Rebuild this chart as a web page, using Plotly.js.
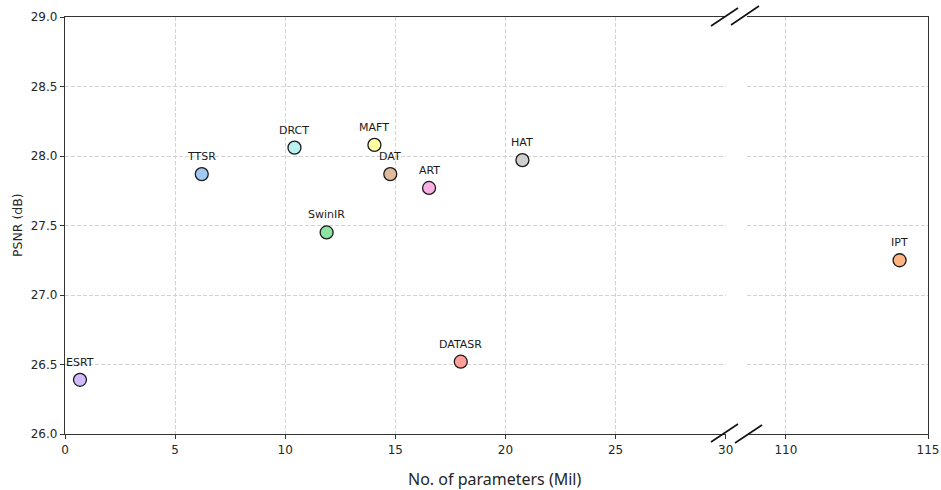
<!DOCTYPE html>
<html>
<head>
<meta charset="utf-8">
<script src="https://cdn.plot.ly/plotly-3.0.1.min.js"></script>
<style>html,body{margin:0;padding:0;background:#fff;}#chart{width:941px;height:490px;}</style>
</head>
<body>
<div id="chart"></div>
<script>
// Data
const models = ["ESRT","TTSR","DRCT","SwinIR","MAFT","DAT","ART","DATASR","HAT","IPT"];
const params = [0.68, 6.21, 10.42, 11.88, 14.05, 14.77, 16.53, 17.97, 20.77, 114.0];
const psnr   = [26.39, 27.87, 28.06, 27.45, 28.08, 27.87, 27.77, 26.52, 27.97, 27.25];
const colors = ["#d0bbff","#a1c9f4","#b9f2f0","#8de5a1","#fffea3","#debb9b","#fab0e4","#ff9f9b","#cfcfcf","#ffb482"];
const leftTicks = [0,5,10,15,20,25,30];
const rightTicks = [110,115];
const yTicks = [26.0,26.5,27.0,27.5,28.0,28.5,29.0];
const yTickText = ["26.0","26.5","27.0","27.5","28.0","28.5","29.0"];

const W = 941, H = 490;
const m = {l:65, r:13, t:17, b:56};
const pw = W - m.l - m.r, ph = H - m.t - m.b;
const px = v => (v - m.l) / pw;
const py = v => (H - m.b - v) / ph;

const leftIdx = [], rightIdx = [];
params.forEach((p,i)=> (p < 50 ? leftIdx : rightIdx).push(i));

function mk(idx, xa, ya){
  return {
    type:'scatter', mode:'markers',
    x: idx.map(i=>params[i]), y: idx.map(i=>psnr[i]),
    xaxis:xa, yaxis:ya,
    marker:{size:13, color: idx.map(i=>colors[i]), line:{color:'#1a1a1a', width:1.3}},
    hoverinfo:'skip', showlegend:false, cliponaxis:false
  };
}
const traces = [mk(leftIdx,'x','y'), mk(rightIdx,'x2','y2')];

const font = {family:'DejaVu Sans, sans-serif', color:'#262626'};
const annotations = [];
models.forEach((name,i)=>{
  const right = params[i] >= 50;
  annotations.push({
    x: params[i], y: psnr[i], xref: right?'x2':'x', yref: right?'y2':'y',
    text: name, showarrow:false, yshift:17.5, xanchor:'center', yanchor:'middle',
    font:{family:font.family, size:11, color:'#1a1a1a'}
  });
});
annotations.push({xref:'paper', yref:'paper', x:px(494), y:py(479), text:'No. of parameters (Mil)', showarrow:false, xanchor:'center', yanchor:'middle', font:{family:'Noto Sans, sans-serif', size:16, color:'#262626'}});
annotations.push({xref:'paper', yref:'paper', x:px(17.5), y:0.5, text:'PSNR (dB)', textangle:-90, showarrow:false, xanchor:'center', yanchor:'middle', font:{family:font.family, size:12.5, color:'#262626'}});

const lineSeg = (x0,y0,x1,y1)=>({type:'line', xref:'paper', yref:'paper', x0:px(x0), y0:py(y0), x1:px(x1), y1:py(y1), line:{color:'#111', width:1.6}});
const shapes = [
  lineSeg(711,26,738,8), lineSeg(731,25,759,6),
  lineSeg(711,442,738,424), lineSeg(735,443,762,425)
];

const grid = {showgrid:true, gridcolor:'#d3d3d3', griddash:'4px,2px', gridwidth:1};
const axLine = {showline:true, linecolor:'#333', linewidth:1.2, zeroline:false};
const tickf = {family:font.family, size:12, color:'#262626'};

const layout = {
  width:W, height:H, margin:m, paper_bgcolor:'#fff', plot_bgcolor:'#fff',
  font: font, showlegend:false,
  xaxis: Object.assign({domain:[0, px(725.7)], range:[0,30], tickvals:leftTicks, ticktext:leftTicks.map(String),
    ticks:'outside', ticklen:4, tickcolor:'#333', mirror:true, tickfont:tickf, anchor:'y'}, grid, axLine),
  xaxis2: Object.assign({domain:[px(747), 1], range:[108.63,115], tickvals:rightTicks, ticktext:rightTicks.map(String),
    ticks:'outside', ticklen:4, tickcolor:'#333', mirror:true, tickfont:tickf, anchor:'y2'}, grid, axLine),
  yaxis: Object.assign({domain:[0,1], range:[26,29], tickvals:yTicks, ticktext:yTickText,
    ticks:'outside', ticklen:4, tickcolor:'#333', tickfont:tickf, anchor:'x'}, grid, axLine),
  yaxis2: Object.assign({domain:[0,1], range:[26,29], tickvals:yTicks, showticklabels:false, ticks:'',
    side:'right', anchor:'x2'}, grid, axLine),
  annotations: annotations,
  shapes: shapes
};

Plotly.newPlot('chart', traces, layout, {staticPlot:true, displayModeBar:false});
</script>
</body>
</html>
